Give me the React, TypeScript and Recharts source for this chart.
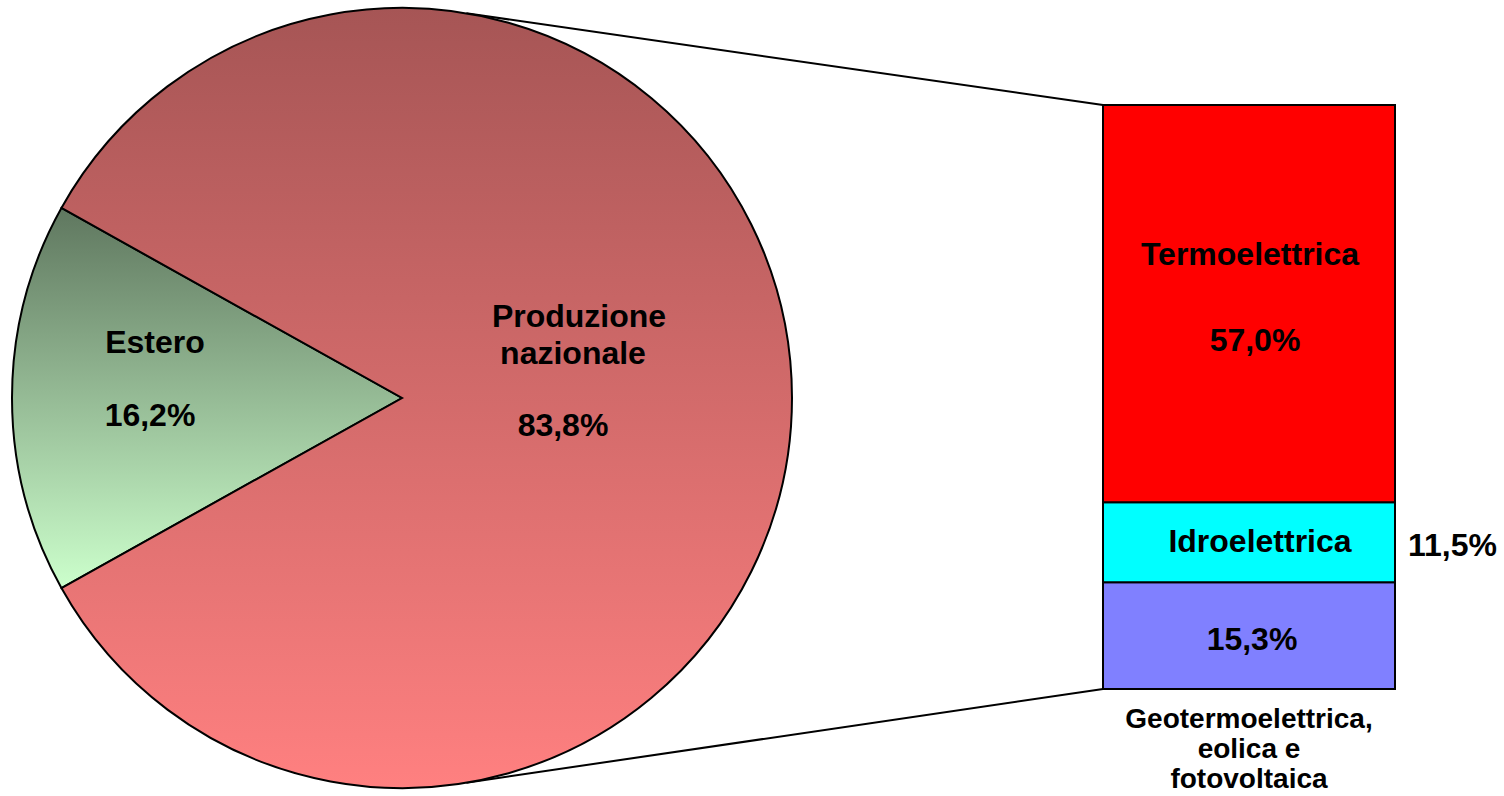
import React from "react";
import { PieChart, Pie, Cell, BarChart, Bar, XAxis, YAxis, LabelList } from "recharts";

const pieNames = ["Estero", "Produzione nazionale"];
const pieValues = [16.2, 83.8];

const barNames = ["Geotermoelettrica, eolica e fotovoltaica", "Idroelettrica", "Termoelettrica"];
const barValues = [15.3, 11.5, 57.0];

const fmt = (v: number) => v.toFixed(1).replace(".", ",") + "%";

const W = 1504;
const H = 796;
const FONT = "'Liberation Sans', Arial, Helvetica, sans-serif";

// pie layout
const CX = 402;
const CY = 398;
const R = 390;
const START = 180 - (pieValues[0] / 100) * 360 / 2;

// bar plot box
const BAR_LEFT = 1103;
const BAR_RIGHT = 1395;
const BAR_TOP = 105;
const BAR_BOTTOM = 689;
const CONNECTOR_ANGLE = 80.5;

const pieData = pieNames.map((name, i) => ({ name, value: pieValues[i] }));
const barRow: Record<string, number | string> = { cat: "altro" };
barNames.forEach((n, i) => (barRow["s" + i] = barValues[i]));
const barData = [barRow];
const barTotal = barValues.reduce((a, b) => a + b, 0);

const textStyle = { fontFamily: FONT, fontWeight: 700, fontSize: 32, fill: "#000" } as const;

function PieLabel(props: any) {
  const { index, value } = props;
  if (index === 0) {
    return (
      <g>
        <text x={155} y={353} textAnchor="middle" style={textStyle}>Estero</text>
        <text x={150} y={426} textAnchor="middle" style={textStyle}>{fmt(value)}</text>
      </g>
    );
  }
  return (
    <g>
      <text x={579} y={327} textAnchor="middle" style={textStyle}>Produzione</text>
      <text x={573} y={364} textAnchor="middle" style={textStyle}>nazionale</text>
      <text x={563} y={436} textAnchor="middle" style={textStyle}>{fmt(value)}</text>
    </g>
  );
}

function TermoLabel(props: any) {
  const { x, y, width, value } = props;
  const mx = x + width / 2;
  return (
    <g>
      <text x={mx + 1} y={y + 160} textAnchor="middle" style={textStyle}>{barNames[2]}</text>
      <text x={mx + 6} y={y + 246} textAnchor="middle" style={textStyle}>{fmt(value)}</text>
    </g>
  );
}

function IdroLabel(props: any) {
  const { x, y, width, value } = props;
  return (
    <g>
      <text x={x + width / 2 + 11} y={y + 50} textAnchor="middle" style={textStyle}>{barNames[1]}</text>
      <text x={x + width + 13} y={y + 54} textAnchor="start" style={textStyle}>{fmt(value)}</text>
    </g>
  );
}

function GeoLabel(props: any) {
  const { x, y, width, height, value } = props;
  const mx = x + width / 2;
  const lines = ["Geotermoelettrica,", "eolica e", "fotovoltaica"];
  return (
    <g>
      <text x={mx + 3} y={y + 68} textAnchor="middle" style={textStyle}>{fmt(value)}</text>
      {lines.map((l, i) => (
        <text key={i} x={mx} y={y + height + 39 + i * 30} textAnchor="middle" style={{ ...textStyle, fontSize: 28 }}>
          {l}
        </text>
      ))}
    </g>
  );
}

const barFills = ["#8080ff", "#00ffff", "#ff0000"];
const barLabels = [GeoLabel, IdroLabel, TermoLabel];

export default function App() {
  const a = (CONNECTOR_ANGLE * Math.PI) / 180;
  const topPt = { x: CX + R * Math.cos(a), y: CY - R * Math.sin(a) };
  const botPt = { x: CX + R * Math.cos(a), y: CY + R * Math.sin(a) };
  return (
    <div style={{ position: "fixed", left: 0, top: 0, width: W, height: H, background: "#fff" }}>
      <svg width={W} height={H} style={{ position: "absolute", left: 0, top: 0 }}>
        <line x1={topPt.x} y1={topPt.y} x2={BAR_LEFT} y2={BAR_TOP} stroke="#000" strokeWidth={2} />
        <line x1={botPt.x} y1={botPt.y} x2={BAR_LEFT} y2={BAR_BOTTOM} stroke="#000" strokeWidth={2} />
      </svg>
      <div style={{ position: "absolute", left: 0, top: 0 }}>
        <PieChart width={820} height={H} margin={{ top: 0, right: 0, bottom: 0, left: 0 }}>
          <defs>
            <linearGradient id="gEstero" x1="0" y1="0" x2="0" y2="1">
              <stop offset="0%" stopColor="#5f775f" />
              <stop offset="100%" stopColor="#ccffcc" />
            </linearGradient>
            <linearGradient id="gNaz" x1="0" y1="0" x2="0" y2="1">
              <stop offset="0%" stopColor="#a65555" />
              <stop offset="100%" stopColor="#ff8080" />
            </linearGradient>
          </defs>
          <Pie
            data={pieData}
            dataKey="value"
            nameKey="name"
            cx={CX}
            cy={CY}
            outerRadius={R}
            startAngle={START}
            endAngle={START + 360}
            stroke="#000"
            strokeWidth={2}
            label={PieLabel}
            labelLine={false}
            isAnimationActive={false}
          >
            <Cell fill="url(#gEstero)" />
            <Cell fill="url(#gNaz)" />
          </Pie>
        </PieChart>
      </div>
      <div style={{ position: "absolute", left: 0, top: 0 }}>
        <BarChart
          width={W}
          height={H}
          data={barData}
          barCategoryGap={0}
          margin={{ top: BAR_TOP, right: W - BAR_RIGHT, bottom: H - BAR_BOTTOM, left: BAR_LEFT }}
        >
          <XAxis dataKey="cat" hide />
          <YAxis hide domain={[0, barTotal]} />
          {barNames.map((n, i) => {
            const L = barLabels[i];
            return (
              <Bar
                key={n}
                dataKey={"s" + i}
                stackId="a"
                fill={barFills[i]}
                stroke="#000"
                strokeWidth={2}
                isAnimationActive={false}
              >
                <LabelList dataKey={"s" + i} content={<L />} />
              </Bar>
            );
          })}
        </BarChart>
      </div>
    </div>
  );
}
